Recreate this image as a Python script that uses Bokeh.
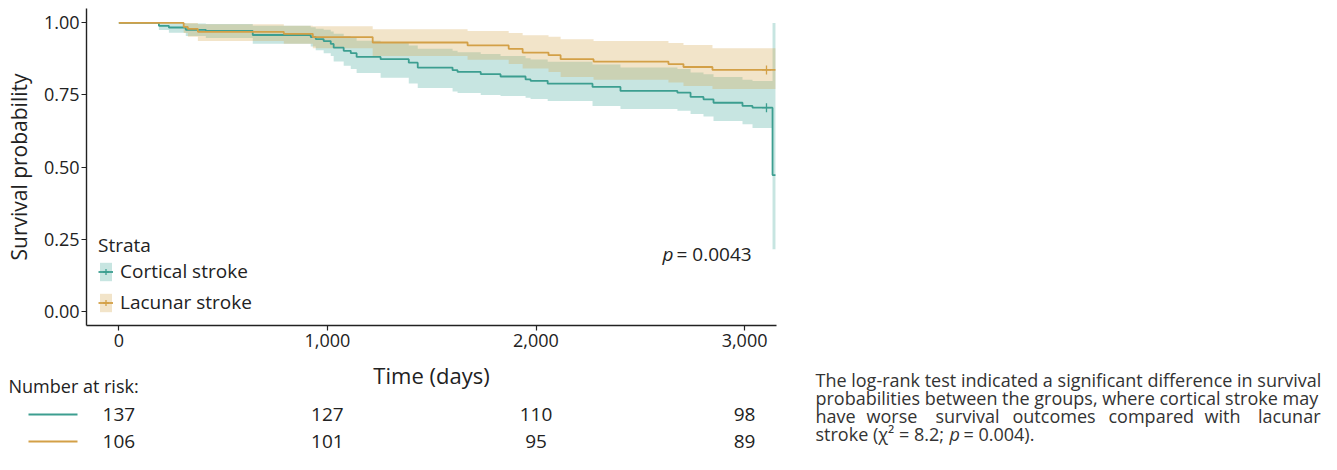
from bokeh.plotting import figure
from bokeh.layouts import row, column
from bokeh.models import (Range1d, FixedTicker, PrintfTickFormatter, NumeralTickFormatter,
                          Legend, LegendItem, Label)
from bokeh.core.properties import value
from bokeh.embed import file_html
from bokeh.resources import INLINE

# ---------------- data ----------------
cort_time = [0, 192, 240, 321, 417, 642, 920, 944, 982, 1016, 1030, 1078, 1112, 1140, 1255,
             1390, 1433, 1600, 1624, 1735, 1830, 1950, 1974, 2056, 2271, 2405, 2678, 2741,
             2803, 2851, 2990, 3038, 3134, 3148]
cort_surv = [1.0, 0.990, 0.984, 0.976, 0.972, 0.958, 0.951, 0.944, 0.937, 0.927, 0.914, 0.903,
             0.895, 0.882, 0.874, 0.862, 0.845, 0.836, 0.830, 0.822, 0.814, 0.804, 0.799, 0.789,
             0.778, 0.764, 0.758, 0.743, 0.735, 0.723, 0.712, 0.706, 0.472, 0.472]
cort_upper = [1.0, 1.0, 1.0, 0.998, 0.996, 0.990, 0.985, 0.980, 0.976, 0.970, 0.962, 0.955,
              0.948, 0.938, 0.932, 0.922, 0.910, 0.903, 0.898, 0.892, 0.885, 0.877, 0.873, 0.865,
              0.856, 0.845, 0.840, 0.828, 0.822, 0.812, 0.803, 0.798, 1.0, 1.0]
cort_lower = [1.0, 0.975, 0.966, 0.955, 0.948, 0.928, 0.918, 0.905, 0.895, 0.885, 0.866, 0.851,
              0.840, 0.826, 0.810, 0.790, 0.774, 0.762, 0.757, 0.750, 0.746, 0.740, 0.736, 0.729,
              0.712, 0.701, 0.695, 0.684, 0.675, 0.660, 0.648, 0.635, 0.215, 0.215]

lac_time = [0, 311, 331, 379, 791, 930, 1217, 1672, 1869, 1936, 2060, 2118, 2276, 2635, 2707,
            2846, 3148]
lac_surv = [1.0, 0.986, 0.979, 0.969, 0.962, 0.951, 0.932, 0.922, 0.910, 0.897, 0.888, 0.874,
            0.866, 0.857, 0.847, 0.837, 0.837]
lac_upper = [1.0, 1.0, 1.0, 0.995, 0.990, 0.988, 0.978, 0.972, 0.965, 0.957, 0.952, 0.943,
             0.937, 0.930, 0.923, 0.912, 0.912]
lac_lower = [1.0, 0.965, 0.952, 0.937, 0.928, 0.912, 0.885, 0.872, 0.857, 0.842, 0.830, 0.812,
             0.803, 0.793, 0.781, 0.771, 0.771]

censor_time = [3105]
cort_censor = [0.706]
lac_censor = [0.837]

strata = ["Cortical stroke", "Lacunar stroke"]
risk_times = [0, 1000, 2000, 3000]
cort_risk = [137, 127, 110, 98]
lac_risk = [106, 101, 95, 89]
y_ticks = [0, 0.25, 0.5, 0.75, 1.0]
x_ticks = [0, 1000, 2000, 3000]

caption_lines = [
    "The log-rank test indicated a significant difference in survival",
    "probabilities between the groups, where cortical stroke may",
]
caption_line3_words = ["have", "worse", "survival", "outcomes", "compared", "with", "lacunar"]

# ---------------- style ----------------
FONT = "Open Sans"
TEAL = "#3c9e90"
GOLD = "#d3a047"
TEAL_FILL = "#46a89a"
GOLD_FILL = "#d4a64c"
INK = "#222222"
CAP = "#333333"

X0, X1 = -155, 3153          # main x range
FL, FR, FT, FB = 86, 776, 8, 325  # frame edges in px
AH = 358                     # main plot height
W, H = 1337, 470
LW = 800                     # width of the risk-table panel
scale = (FR - FL) / (X1 - X0)  # px per day

# ---------------- main KM plot ----------------
p = figure(width=W, height=AH, output_backend="svg", toolbar_location=None,
           x_range=Range1d(X0, X1), y_range=Range1d(-0.05, 1.05),
           min_border_left=FL, min_border_right=W - FR, min_border_top=FT,
           min_border_bottom=AH - FB)
p.frame_align = False
p.outline_line_color = None
p.grid.visible = False

p.varea_step(x=cort_time, y1=cort_lower, y2=cort_upper, step_mode="after",
             fill_color=TEAL_FILL, fill_alpha=0.3)
p.varea_step(x=lac_time, y1=lac_lower, y2=lac_upper, step_mode="after",
             fill_color=GOLD_FILL, fill_alpha=0.3)
cl = p.step(x=cort_time, y=cort_surv, mode="after", line_color=TEAL, line_width=1.8)
ll = p.step(x=lac_time, y=lac_surv, mode="after", line_color=GOLD, line_width=1.8)
cc = p.scatter(x=censor_time, y=cort_censor, marker="cross", size=9, line_color=TEAL, line_width=1.3)
lc = p.scatter(x=censor_time, y=lac_censor, marker="cross", size=9, line_color=GOLD, line_width=1.3)

# legend swatches (placed outside the visible range)
cq = p.quad(left=[-9000], right=[-8999], top=[0.5], bottom=[0.4], fill_color=TEAL_FILL,
            fill_alpha=0.3, line_alpha=0)
lq = p.quad(left=[-9000], right=[-8999], top=[0.5], bottom=[0.4], fill_color=GOLD_FILL,
            fill_alpha=0.3, line_alpha=0)

legend = Legend(items=[LegendItem(label=strata[0], renderers=[cq, cl, cc]),
                       LegendItem(label=strata[1], renderers=[lq, ll, lc])],
                location=(12, 10), title="Strata", title_text_font=FONT,
                title_text_font_size="19px", title_text_font_style="normal",
                title_text_color=INK, title_standoff=0,
                label_text_font=FONT, label_text_font_size="19px", label_text_color=INK,
                glyph_width=15, glyph_height=23, label_height=23, spacing=5,
                label_standoff=7, padding=0, margin=0,
                background_fill_alpha=0, border_line_alpha=0)
p.add_layout(legend, "center")

for ax in (p.xaxis[0], p.yaxis[0]):
    ax.axis_line_color = INK
    ax.axis_line_width = 1.4
    ax.major_tick_line_color = INK
    ax.major_tick_line_width = 1.2
    ax.major_tick_out = 5
    ax.major_tick_in = 0
    ax.minor_tick_out = 0
    ax.minor_tick_in = 0
    ax.major_label_text_font = FONT
    ax.major_label_text_font_size = "18px"
    ax.major_label_text_color = INK
    ax.axis_label_text_font = FONT
    ax.axis_label_text_font_size = "21px"
    ax.axis_label_text_font_style = "normal"
    ax.axis_label_text_color = INK
p.yaxis[0].ticker = FixedTicker(ticks=y_ticks)
p.yaxis[0].formatter = PrintfTickFormatter(format="%.2f")
p.yaxis[0].axis_label = "Survival probability"
p.yaxis[0].major_label_standoff = 2
p.yaxis[0].axis_label_standoff = 8
p.xaxis[0].ticker = FixedTicker(ticks=x_ticks)
p.xaxis[0].formatter = NumeralTickFormatter(format="0,0")
p.xaxis[0].major_label_standoff = 3

p.add_layout(Label(x=662 - FL, y=FB - 253, x_units="screen", y_units="screen", text="p",
                   text_font=FONT, text_font_size="19px", text_font_style="italic",
                   text_color=INK, text_baseline="middle"))
p.add_layout(Label(x=676 - FL, y=FB - 253, x_units="screen", y_units="screen", text="= 0.0043",
                   text_font=FONT, text_font_size="19px", text_color=INK,
                   text_baseline="middle"))

# ---------------- risk table (below, left) ----------------
BH = H - AH
b = figure(width=LW, height=BH, output_backend="svg", toolbar_location=None,
           x_range=Range1d(X0 - FL / scale, X1 + (LW - FR) / scale),
           y_range=Range1d(BH, 0), min_border=0,
           x_axis_location=None, y_axis_location=None)
b.frame_align = False
b.grid.visible = False
b.outline_line_color = None


def bx(px):
    return X0 + (px - FL) / scale


b.text(x=[(X0 + X1) / 2], y=[374 - AH], text=["Time (days)"], text_font=value(FONT),
       text_font_size=value("22px"), text_color=INK, text_align="center",
       text_baseline="middle")
b.text(x=[bx(8)], y=[385 - AH], text=["Number at risk:"], text_font=value(FONT),
       text_font_size=value("18px"), text_color=INK, text_align="left",
       text_baseline="middle")
for i, (counts, col) in enumerate(((cort_risk, TEAL), (lac_risk, GOLD))):
    ypy = 414 + 27 * i - AH
    b.segment(x0=[bx(28)], x1=[bx(77)], y0=[ypy], y1=[ypy], line_color=col, line_width=2)
    b.text(x=risk_times, y=[ypy] * len(risk_times), text=[str(c) for c in counts],
           text_font=value(FONT), text_font_size=value("19px"), text_color=INK,
           text_align="center", text_baseline="middle")

# ---------------- caption (below, right) ----------------
CW = W - LW
c = figure(width=CW, height=BH, output_backend="svg", toolbar_location=None,
           x_range=Range1d(LW, W), y_range=Range1d(H, AH), min_border=0,
           x_axis_location=None, y_axis_location=None)
c.frame_align = False
c.grid.visible = False
c.outline_line_color = None

cap_y = [379, 397, 415, 433]


def ctext(t, x, y, style="normal", align="left"):
    c.text(x=[x], y=[y], text=[t], text_font=value(FONT), text_font_size=value("18px"),
           text_font_style=style, text_color=CAP, text_align=align, text_baseline="middle")


for line, yy in zip(caption_lines, cap_y[:2]):
    ctext(line, 815, yy)
word_x = [815, 866, 935, 1012, 1108, 1204]
for w, xx in zip(caption_line3_words[:-1], word_x):
    ctext(w, xx, cap_y[2])
ctext(caption_line3_words[-1], 1320, cap_y[2], align="right")
ctext("stroke (\u03c7\u00b2 = 8.2; ", 815, cap_y[3])
ctext("p", 949, cap_y[3], style="italic")
ctext("= 0.004).", 963, cap_y[3])

layout = column(p, row(b, c, spacing=0), spacing=0)
open("out.html", "w").write(file_html(layout, INLINE))
